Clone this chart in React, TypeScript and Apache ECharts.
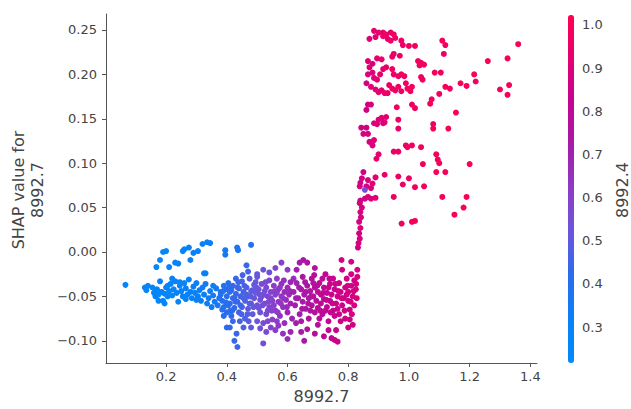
import React, { useEffect, useRef } from "react";
import * as echarts from "echarts";

// [feature 8992.7 value, SHAP value, feature 8992.4 value]
const bluePoints: [number, number, number][] = [
  [0.066, -0.037, 0.26], [0.13, -0.040, 0.27], [0.135, -0.043, 0.25], [0.14, -0.038, 0.28], [0.155, -0.040, 0.27],
  [0.16, -0.046, 0.26], [0.165, -0.050, 0.29], [0.17, -0.042, 0.27], [0.175, -0.048, 0.25], [0.18, -0.033, 0.28],
  [0.185, -0.045, 0.30], [0.19, -0.055, 0.27], [0.195, -0.047, 0.26], [0.20, -0.040, 0.29], [0.205, -0.050, 0.28],
  [0.21, -0.044, 0.27], [0.215, -0.036, 0.30], [0.22, -0.049, 0.28], [0.225, -0.042, 0.26], [0.23, -0.033, 0.29],
  [0.235, -0.046, 0.31], [0.24, -0.056, 0.28], [0.245, -0.038, 0.27], [0.25, -0.044, 0.30], [0.255, -0.050, 0.29],
  [0.26, -0.035, 0.28], [0.265, -0.041, 0.31], [0.27, -0.048, 0.30], [0.275, -0.031, 0.29], [0.28, -0.045, 0.31],
  [0.285, -0.052, 0.30], [0.29, -0.039, 0.32], [0.295, -0.046, 0.30], [0.30, -0.035, 0.31], [0.305, -0.050, 0.33],
  [0.31, -0.043, 0.32], [0.315, -0.055, 0.31], [0.32, -0.040, 0.33], [0.325, -0.048, 0.32], [0.33, -0.036, 0.34],
  [0.335, -0.058, 0.33], [0.34, -0.052, 0.34], [0.345, -0.044, 0.33], [0.35, -0.062, 0.35], [0.355, -0.049, 0.34],
  [0.36, -0.056, 0.36], [0.365, -0.041, 0.35], [0.37, -0.060, 0.36], [0.375, -0.052, 0.37], [0.38, -0.045, 0.36],
  [0.385, -0.065, 0.38], [0.39, -0.038, 0.37], [0.195, -0.058, 0.27], [0.175, -0.055, 0.28], [0.205, -0.038, 0.27],
  [0.22, -0.030, 0.29], [0.245, -0.034, 0.28], [0.265, -0.053, 0.30], [0.30, -0.054, 0.31], [0.355, -0.038, 0.33],
  [0.19, 0.000, 0.27], [0.20, 0.001, 0.28], [0.18, -0.009, 0.26], [0.21, -0.017, 0.28], [0.23, -0.012, 0.29],
  [0.255, 0.001, 0.28], [0.26, 0.003, 0.30], [0.275, 0.005, 0.29], [0.28, -0.009, 0.30], [0.29, -0.001, 0.31],
  [0.305, 0.001, 0.30], [0.32, 0.009, 0.32], [0.335, 0.011, 0.31], [0.345, 0.010, 0.33], [0.33, -0.024, 0.32],
  [0.24, -0.013, 0.29], [0.168, -0.017, 0.27], [0.325, -0.024, 0.31], [0.395, 0.002, 0.34], [0.395, -0.003, 0.35],
  [0.434, 0.005, 0.36], [0.437, 0.002, 0.37]
];

const purplePoints: [number, number, number][] = [
  [0.48, 0.008, 0.40], [0.465, -0.015, 0.44], [0.47, -0.022, 0.45], [0.50, -0.025, 0.50], [0.52, -0.020, 0.52],
  [0.54, -0.023, 0.55], [0.56, -0.018, 0.58], [0.58, -0.012, 0.60], [0.60, -0.020, 0.62], [0.62, -0.030, 0.66],
  [0.38, -0.048, 0.40], [0.385, -0.055, 0.41], [0.39, -0.062, 0.39], [0.395, -0.042, 0.42], [0.40, -0.050, 0.40],
  [0.40, -0.068, 0.43], [0.405, -0.035, 0.41], [0.41, -0.058, 0.42], [0.41, -0.045, 0.44], [0.415, -0.072, 0.43],
  [0.42, -0.052, 0.45], [0.42, -0.038, 0.43], [0.425, -0.063, 0.44], [0.43, -0.047, 0.46], [0.43, -0.030, 0.44],
  [0.435, -0.056, 0.45], [0.44, -0.068, 0.47], [0.44, -0.041, 0.46], [0.445, -0.050, 0.45], [0.45, -0.062, 0.48],
  [0.45, -0.033, 0.47], [0.455, -0.045, 0.46], [0.46, -0.055, 0.49], [0.46, -0.075, 0.48], [0.465, -0.040, 0.50],
  [0.47, -0.050, 0.48], [0.47, -0.064, 0.50], [0.475, -0.030, 0.49], [0.48, -0.044, 0.51], [0.48, -0.058, 0.50],
  [0.485, -0.070, 0.52], [0.49, -0.037, 0.51], [0.49, -0.052, 0.53], [0.495, -0.046, 0.52], [0.50, -0.060, 0.54],
  [0.50, -0.028, 0.52], [0.505, -0.042, 0.53], [0.51, -0.054, 0.55], [0.51, -0.068, 0.54], [0.515, -0.036, 0.56],
  [0.52, -0.048, 0.55], [0.52, -0.080, 0.57], [0.525, -0.058, 0.56], [0.53, -0.040, 0.58], [0.53, -0.070, 0.57],
  [0.535, -0.050, 0.59], [0.54, -0.032, 0.58], [0.54, -0.062, 0.60], [0.545, -0.045, 0.59], [0.55, -0.055, 0.61],
  [0.55, -0.076, 0.60], [0.555, -0.038, 0.62], [0.56, -0.048, 0.61], [0.56, -0.066, 0.63], [0.565, -0.030, 0.62],
  [0.57, -0.056, 0.64], [0.57, -0.042, 0.63], [0.575, -0.072, 0.65], [0.58, -0.050, 0.64], [0.58, -0.036, 0.66],
  [0.585, -0.062, 0.65], [0.59, -0.045, 0.67], [0.59, -0.080, 0.66], [0.595, -0.054, 0.68], [0.60, -0.040, 0.67],
  [0.60, -0.068, 0.69], [0.605, -0.048, 0.68], [0.61, -0.058, 0.70], [0.61, -0.034, 0.69], [0.615, -0.075, 0.70],
  [0.39, -0.072, 0.41], [0.405, -0.060, 0.42], [0.415, -0.043, 0.40], [0.425, -0.052, 0.43], [0.435, -0.040, 0.45],
  [0.445, -0.060, 0.44], [0.455, -0.052, 0.47], [0.465, -0.048, 0.46], [0.475, -0.058, 0.49], [0.485, -0.043, 0.50],
  [0.495, -0.034, 0.51], [0.505, -0.063, 0.52], [0.515, -0.050, 0.54], [0.525, -0.044, 0.55], [0.535, -0.066, 0.57],
  [0.545, -0.052, 0.58], [0.555, -0.060, 0.60], [0.565, -0.046, 0.61], [0.575, -0.040, 0.63], [0.585, -0.052, 0.64],
  [0.40, -0.085, 0.42], [0.41, -0.085, 0.43], [0.425, -0.100, 0.44], [0.435, -0.107, 0.45], [0.42, -0.078, 0.44],
  [0.455, -0.085, 0.47], [0.48, -0.085, 0.50], [0.52, -0.103, 0.56], [0.53, -0.090, 0.57], [0.545, -0.085, 0.59],
  [0.56, -0.088, 0.61], [0.585, -0.092, 0.65], [0.60, -0.098, 0.67], [0.61, -0.090, 0.69], [0.50, -0.078, 0.53],
  [0.51, -0.086, 0.55], [0.57, -0.083, 0.63],
  [0.388, -0.044, 0.40], [0.398, -0.057, 0.41], [0.408, -0.040, 0.42], [0.418, -0.066, 0.43], [0.428, -0.056, 0.44],
  [0.438, -0.034, 0.45], [0.448, -0.070, 0.46], [0.458, -0.038, 0.47], [0.468, -0.070, 0.48], [0.478, -0.050, 0.49],
  [0.488, -0.062, 0.51], [0.498, -0.040, 0.52], [0.508, -0.048, 0.53], [0.518, -0.060, 0.55], [0.528, -0.034, 0.56],
  [0.538, -0.056, 0.58], [0.548, -0.066, 0.59], [0.558, -0.044, 0.61], [0.568, -0.068, 0.62], [0.578, -0.058, 0.64],
  [0.588, -0.032, 0.65], [0.598, -0.062, 0.67], [0.608, -0.044, 0.68], [0.443, -0.078, 0.46], [0.472, -0.078, 0.49],
  [0.535, -0.078, 0.58], [0.565, -0.078, 0.62], [0.432, -0.092, 0.45], [0.412, -0.066, 0.42], [0.452, -0.026, 0.47]
];

const magentaPoints: [number, number, number][] = [
  [0.62, -0.045, 0.70], [0.625, -0.060, 0.71], [0.63, -0.035, 0.70], [0.635, -0.052, 0.72], [0.64, -0.070, 0.71],
  [0.645, -0.042, 0.73], [0.65, -0.056, 0.72], [0.65, -0.028, 0.74], [0.655, -0.048, 0.73], [0.66, -0.064, 0.74],
  [0.665, -0.038, 0.75], [0.67, -0.052, 0.74], [0.67, -0.075, 0.76], [0.675, -0.044, 0.75], [0.68, -0.030, 0.77],
  [0.68, -0.060, 0.76], [0.685, -0.050, 0.77], [0.69, -0.040, 0.78], [0.69, -0.068, 0.77], [0.695, -0.055, 0.78],
  [0.70, -0.045, 0.79], [0.70, -0.082, 0.78], [0.705, -0.035, 0.80], [0.71, -0.058, 0.79], [0.71, -0.048, 0.80],
  [0.715, -0.070, 0.79], [0.72, -0.040, 0.81], [0.72, -0.053, 0.80], [0.725, -0.025, 0.82], [0.73, -0.062, 0.81],
  [0.73, -0.046, 0.82], [0.735, -0.078, 0.81], [0.74, -0.036, 0.83], [0.74, -0.055, 0.82], [0.745, -0.048, 0.83],
  [0.75, -0.066, 0.82], [0.75, -0.030, 0.84], [0.755, -0.042, 0.83], [0.76, -0.058, 0.84], [0.76, -0.088, 0.83],
  [0.765, -0.050, 0.84], [0.77, -0.035, 0.85], [0.77, -0.070, 0.84], [0.775, -0.045, 0.85], [0.78, -0.060, 0.84],
  [0.78, -0.020, 0.86], [0.785, -0.052, 0.85], [0.79, -0.040, 0.86], [0.79, -0.075, 0.85], [0.795, -0.030, 0.86],
  [0.80, -0.055, 0.85], [0.80, -0.045, 0.87], [0.805, -0.065, 0.86], [0.81, -0.025, 0.87], [0.81, -0.038, 0.86],
  [0.815, -0.050, 0.87], [0.82, -0.032, 0.86], [0.82, -0.060, 0.87], [0.825, -0.042, 0.88], [0.83, -0.028, 0.87],
  [0.83, -0.020, 0.88], [0.778, -0.009, 0.86], [0.81, -0.011, 0.87], [0.652, -0.009, 0.74], [0.665, -0.012, 0.75],
  [0.69, -0.018, 0.77], [0.64, -0.012, 0.72], [0.63, -0.020, 0.71],
  [0.628, -0.080, 0.71], [0.645, -0.090, 0.73], [0.655, -0.100, 0.73], [0.665, -0.087, 0.75], [0.69, -0.092, 0.77],
  [0.72, -0.095, 0.80], [0.745, -0.097, 0.82], [0.755, -0.099, 0.83], [0.765, -0.101, 0.84], [0.80, -0.085, 0.86],
  [0.815, -0.082, 0.87], [0.805, -0.076, 0.86], [0.70, -0.063, 0.79], [0.725, -0.066, 0.80], [0.755, -0.072, 0.83],
  [0.66, -0.045, 0.74], [0.685, -0.035, 0.76], [0.715, -0.030, 0.79], [0.735, -0.040, 0.82], [0.765, -0.064, 0.84],
  [0.628, -0.052, 0.71], [0.638, -0.040, 0.72], [0.648, -0.064, 0.73], [0.658, -0.034, 0.74], [0.668, -0.058, 0.75],
  [0.678, -0.050, 0.76], [0.688, -0.026, 0.77], [0.698, -0.038, 0.78], [0.708, -0.066, 0.79], [0.718, -0.046, 0.80],
  [0.728, -0.054, 0.81], [0.738, -0.030, 0.82], [0.748, -0.058, 0.83], [0.758, -0.036, 0.84], [0.768, -0.044, 0.85],
  [0.778, -0.052, 0.85], [0.788, -0.066, 0.86], [0.798, -0.038, 0.86], [0.808, -0.056, 0.87], [0.818, -0.044, 0.87],
  [0.828, -0.052, 0.88], [0.826, -0.036, 0.88], [0.812, -0.070, 0.87], [0.795, -0.048, 0.86], [0.775, -0.078, 0.85],
  [0.742, -0.068, 0.82], [0.705, -0.075, 0.79], [0.675, -0.066, 0.76], [0.645, -0.078, 0.73], [0.735, -0.088, 0.81]
];

const risePoints: [number, number, number][] = [
  [0.832, 0.005, 0.86], [0.834, 0.010, 0.87], [0.838, 0.015, 0.88], [0.836, 0.021, 0.86], [0.84, 0.027, 0.88],
  [0.836, 0.034, 0.87], [0.842, 0.039, 0.89], [0.84, 0.045, 0.88], [0.838, 0.055, 0.87], [0.845, 0.050, 0.89]
];

const redPoints: [number, number, number][] = [
  [0.885, 0.249, 0.92], [0.90, 0.247, 0.95], [0.915, 0.247, 0.93], [0.925, 0.245, 0.96], [0.94, 0.247, 0.94],
  [0.95, 0.245, 0.97], [0.87, 0.240, 0.90], [0.89, 0.242, 0.93], [0.915, 0.243, 0.95], [0.93, 0.240, 0.92],
  [0.94, 0.238, 0.96], [0.955, 0.241, 0.94], [0.975, 0.238, 0.97], [0.98, 0.233, 0.95], [1.00, 0.232, 0.98],
  [1.02, 0.232, 0.97], [1.11, 0.238, 0.99], [1.12, 0.233, 0.98], [1.36, 0.234, 1.0],
  [0.865, 0.215, 0.89], [0.87, 0.208, 0.91], [0.88, 0.212, 0.90], [0.895, 0.218, 0.93], [0.91, 0.217, 0.95],
  [0.945, 0.220, 0.96], [0.95, 0.223, 0.94], [0.97, 0.221, 0.97], [1.03, 0.215, 0.98], [1.04, 0.213, 0.97],
  [1.05, 0.211, 0.99], [1.035, 0.210, 0.96], [1.115, 0.223, 0.98], [1.26, 0.215, 1.0], [1.325, 0.218, 0.99],
  [0.865, 0.200, 0.88], [0.88, 0.202, 0.91], [0.885, 0.196, 0.90], [0.895, 0.194, 0.93], [0.905, 0.200, 0.94],
  [0.915, 0.206, 0.92], [0.925, 0.208, 0.95], [0.945, 0.206, 0.97], [0.95, 0.200, 0.95], [0.965, 0.198, 0.96],
  [0.975, 0.200, 0.98], [0.985, 0.198, 0.97], [1.04, 0.197, 0.98], [1.045, 0.194, 0.97], [1.085, 0.202, 0.99],
  [1.105, 0.202, 0.98], [1.215, 0.200, 1.0], [1.22, 0.192, 0.99],
  [0.86, 0.190, 0.87], [0.875, 0.186, 0.89], [0.89, 0.183, 0.92], [0.90, 0.180, 0.94], [0.91, 0.182, 0.93],
  [0.92, 0.179, 0.95], [0.93, 0.179, 0.96], [0.935, 0.188, 0.94], [0.945, 0.184, 0.97], [0.955, 0.182, 0.95],
  [0.965, 0.186, 0.98], [0.975, 0.181, 0.96], [0.99, 0.190, 0.97], [0.995, 0.184, 0.99], [1.005, 0.181, 0.98],
  [1.01, 0.186, 0.97], [1.12, 0.186, 0.99], [1.135, 0.184, 0.98], [1.17, 0.190, 1.0], [1.19, 0.187, 0.99],
  [1.30, 0.183, 1.0], [1.325, 0.177, 0.99], [1.33, 0.188, 1.0], [1.10, 0.178, 0.98],
  [0.865, 0.166, 0.87], [0.875, 0.166, 0.88], [0.86, 0.160, 0.86], [0.96, 0.163, 0.96], [1.01, 0.166, 0.97],
  [1.02, 0.162, 0.98], [1.07, 0.167, 0.99], [1.075, 0.172, 0.98], [1.155, 0.157, 1.0],
  [0.86, 0.140, 0.86], [0.865, 0.133, 0.87], [0.87, 0.124, 0.88], [0.88, 0.120, 0.89], [0.885, 0.126, 0.90],
  [0.885, 0.145, 0.88], [0.895, 0.144, 0.91], [0.90, 0.149, 0.89], [0.91, 0.151, 0.92], [0.915, 0.145, 0.90],
  [0.92, 0.146, 0.93], [0.925, 0.152, 0.91], [0.965, 0.149, 0.96], [0.965, 0.139, 0.95], [1.08, 0.144, 0.98],
  [1.08, 0.139, 0.99], [1.13, 0.139, 1.0], [0.843, 0.140, 0.86], [0.85, 0.133, 0.87],
  [0.90, 0.110, 0.93], [0.95, 0.113, 0.95], [0.965, 0.113, 0.96], [0.99, 0.120, 0.97], [0.995, 0.118, 0.98],
  [1.01, 0.120, 0.97], [1.04, 0.118, 0.98], [1.09, 0.110, 0.99], [1.095, 0.104, 0.98], [1.10, 0.100, 1.0],
  [1.046, 0.099, 0.99], [1.20, 0.099, 1.0], [0.893, 0.105, 0.92],
  [0.85, 0.090, 0.86], [0.845, 0.083, 0.87], [0.84, 0.078, 0.86], [0.838, 0.074, 0.88], [0.86, 0.074, 0.87],
  [0.875, 0.072, 0.89], [0.855, 0.070, 0.55], [0.865, 0.081, 0.88], [0.88, 0.077, 0.90], [0.89, 0.084, 0.91],
  [0.92, 0.087, 0.94], [0.965, 0.085, 0.96], [1.00, 0.083, 0.97], [0.98, 0.076, 0.96], [1.02, 0.073, 0.98],
  [1.05, 0.074, 0.99], [1.09, 0.090, 1.0], [1.12, 0.090, 0.99],
  [0.84, 0.058, 0.86], [0.855, 0.060, 0.87], [0.865, 0.062, 0.88], [0.875, 0.060, 0.90], [0.89, 0.061, 0.91],
  [0.95, 0.062, 0.96], [1.11, 0.062, 0.99], [1.19, 0.062, 1.0], [1.18, 0.050, 0.99],
  [0.976, 0.032, 0.97], [1.01, 0.034, 0.98], [1.02, 0.035, 0.99], [1.15, 0.042, 1.0]
];

const xTicks = [0.2, 0.4, 0.6, 0.8, 1.0, 1.2, 1.4];
const yTicks = [-0.1, -0.05, 0, 0.05, 0.1, 0.15, 0.2, 0.25];
const colorTicks = [0.3, 0.4, 0.5, 0.6, 0.7, 0.8, 0.9, 1.0];
const colorStops = ["#008bfb", "#0a80f6", "#2a6cec", "#6a56dc", "#8c3cc8", "#a41ca8", "#c40490", "#e40070", "#ff0052"];

const FONT = "DejaVu Sans";
const TEXT = "#444";
const LINE = "#555";

export default function App() {
  const ref = useRef<HTMLDivElement>(null);
  useEffect(() => {
    if (!ref.current) return;
    const chart = echarts.init(ref.current, undefined, { renderer: "svg" });
    const allPoints = [...bluePoints, ...purplePoints, ...magentaPoints, ...risePoints, ...redPoints];
    const fmt = (v: number, d: number) => (Math.abs(v) < 1e-9 ? 0 : v).toFixed(d).replace("-", "\u2212");
    chart.setOption({
      animation: false,
      textStyle: { fontFamily: FONT },
      grid: [
        { left: 106, top: 14, right: 94, bottom: 44 },
        { left: 568, top: 15, width: 6, height: 348 }
      ],
      xAxis: [
        {
          type: "value", gridIndex: 0, min: 0.002, max: 1.422,
          name: "8992.7", nameLocation: "middle", nameGap: 25,
          nameTextStyle: { fontSize: 16, color: TEXT, fontFamily: FONT },
          axisLine: { onZero: false, lineStyle: { color: LINE, width: 1 } },
          axisTick: { show: true, length: 4, customValues: xTicks, lineStyle: { color: LINE } },
          axisLabel: { customValues: xTicks, fontSize: 13, color: TEXT, margin: 7, fontFamily: FONT, formatter: (v: number) => fmt(v, 1) },
          splitLine: { show: false }
        },
        { type: "value", gridIndex: 1, show: false, min: 0, max: 1 }
      ],
      yAxis: [
        {
          type: "value", gridIndex: 0, min: -0.125, max: 0.268,
          axisLine: { show: true, onZero: false, lineStyle: { color: LINE, width: 1 } },
          axisTick: { show: true, length: 4, customValues: yTicks, lineStyle: { color: LINE } },
          axisLabel: { customValues: yTicks, fontSize: 13, color: TEXT, margin: 9, fontFamily: FONT, formatter: (v: number) => fmt(v, 2) },
          splitLine: { show: false }
        },
        {
          type: "value", gridIndex: 1, position: "right", min: 0.217, max: 1.023,
          axisLine: { show: false },
          axisTick: { show: true, length: 4, customValues: colorTicks, lineStyle: { color: LINE } },
          axisLabel: { customValues: colorTicks, fontSize: 13, color: TEXT, margin: 8, fontFamily: FONT, formatter: (v: number) => fmt(v, 1) },
          splitLine: { show: false }
        }
      ],
      visualMap: {
        type: "continuous", min: 0.217, max: 1.023, dimension: 2, seriesIndex: 0,
        orient: "vertical", left: 568, top: 15, itemWidth: 6, itemHeight: 348,
        padding: 0, calculable: false, hoverLink: false, text: null,
        inRange: { color: colorStops }
      },
      series: [
        {
          type: "scatter", xAxisIndex: 0, yAxisIndex: 0,
          symbolSize: 6, data: allPoints,
          itemStyle: { opacity: 1 }
        }
      ],
      graphic: [
        {
          type: "text", x: 28, y: 190, rotation: Math.PI / 2,
          style: { text: "SHAP value for\n8992.7", fontSize: 16, lineHeight: 19, fill: TEXT, fontFamily: FONT, align: "center", verticalAlign: "middle" }
        },
        {
          type: "text", x: 622, y: 190, rotation: Math.PI / 2,
          style: { text: "8992.4", fontSize: 16, fill: TEXT, fontFamily: FONT, align: "center", verticalAlign: "middle" }
        }
      ]
    });
    return () => chart.dispose();
  }, []);
  return <div ref={ref} style={{ position: "fixed", left: 0, top: 0, width: 631, height: 409, background: "#fff" }} />;
}
